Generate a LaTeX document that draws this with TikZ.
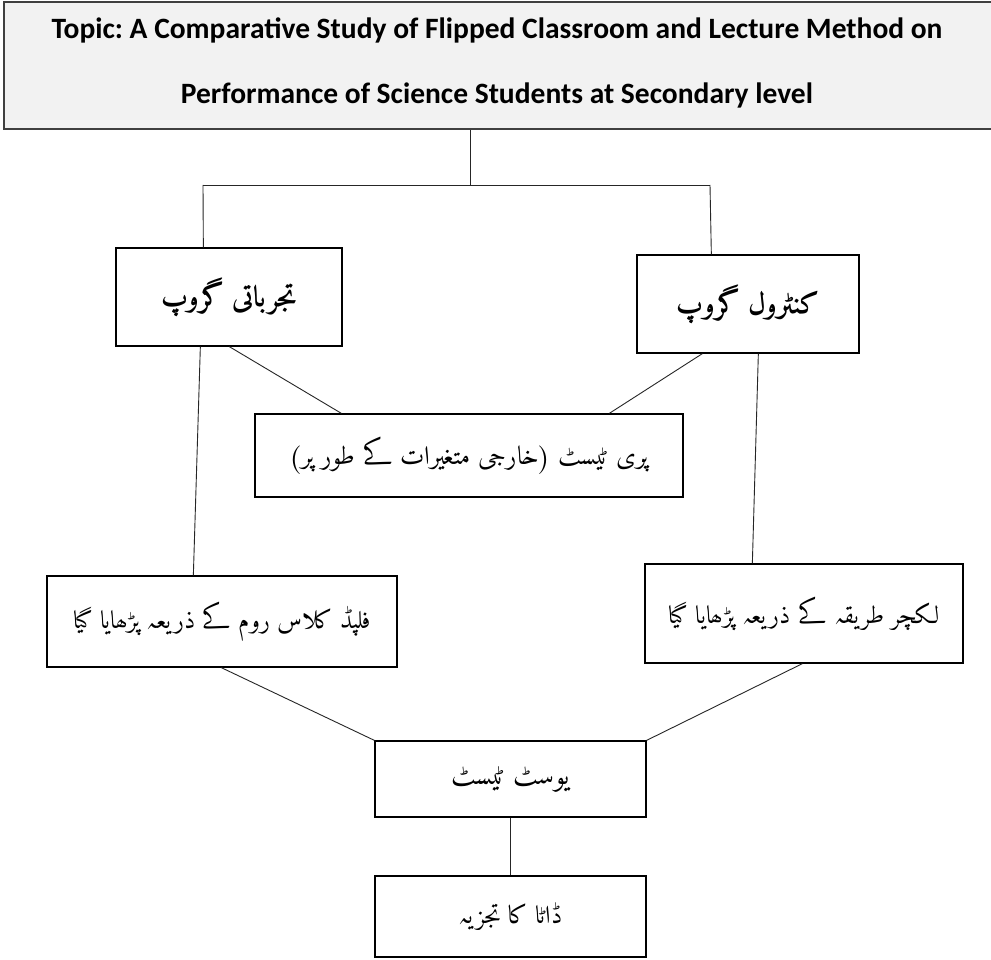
\documentclass[tikz,border=0pt]{standalone}
\usepackage{fontspec}
\setmainfont{Carlito}
\IfFontExistsTF{Amiri}
  {\newfontfamily\urdu[Script=Arabic]{Amiri}}
  {\newfontfamily\urdu[Script=Arabic]{DejaVu Sans}}
\TeXXeTstate=1
\usetikzlibrary{calc}

\newcommand{\ur}[1]{\urdu\beginR #1\endR}

\begin{document}
\frenchspacing
\begin{tikzpicture}[x=1pt,y=-1pt,
  box/.style={draw=black, line width=1.3pt, rectangle, inner sep=0pt,
    font=\urdu\fontsize{25}{30}\selectfont},
  groupbox/.style={box, font=\urdu\bfseries\fontsize{29}{35}\selectfont},
  link/.style={draw=black!85, line width=0.9pt}]
\useasboundingbox (0,0) rectangle (991,960);
\fill[white] (0,0) rectangle (991,960);

% title box
\node[draw=black!75, fill=black!5, line width=1.6pt, anchor=north west,
      minimum width=992pt, minimum height=127pt, inner sep=0pt] (topic) at (3,1) {};
\node[font=\bfseries\fontsize{29.5}{65}\selectfont, align=center, inner sep=0pt]
      (title) at (497,63) {Topic: A Comparative Study of Flipped Classroom and Lecture Method on\\
      Performance of Science Students at Secondary level};

% groups
\node[groupbox, minimum width=226pt, minimum height=98pt] (exp) at (229,297) {\ur{تجرباتی گروپ}};
\node[groupbox, minimum width=222pt, minimum height=98pt] (ctrl) at (748,304) {\ur{کنٹرول گروپ}};

% pre-test
\node[box, font=\urdu\fontsize{26}{31}\selectfont, minimum width=428pt, minimum height=83pt]
      (pre) at (469,455.5) {\ur{پری ٹیسٹ (خارجی متغیرات کے طور پر)}\hspace{18pt}};

% treatments
\node[box, minimum width=350pt, minimum height=91pt] (flip) at (222,621.5) {\ur{فلپڈ کلاس روم کے ذریعہ پڑھایا گیا}};
\node[box, minimum width=318pt, minimum height=99pt] (lect) at (804,613.5) {\ur{لکچر طریقہ کے ذریعہ پڑھایا گیا}};

% post-test and analysis
\node[box, font=\urdu\fontsize{28}{33}\selectfont, minimum width=271pt, minimum height=76pt]
      (post) at (510.5,779) {\ur{یوسٹ ٹیسٹ}};
\node[box, minimum width=271pt, minimum height=81pt] (data) at (510.5,916.5) {\ur{ڈاٹا کا تجزیہ}};

% branching from the title
\coordinate (hm) at (470,185);
\coordinate (hl) at (203,185);
\coordinate (hr) at (710,185);
\draw[link] (topic.south -| hm) -- (hm);
\draw[link] (hl) -- (hr);
\draw[link] (hl) -- ($(exp.north west)+(88,0)$);
\draw[link] (hr) -- ($(ctrl.north west)+(75,0)$);

% groups to pre-test and treatments
\draw[link] ($(exp.south west)+(114,0)$) -- ($(pre.north west)+(87,0)$);
\draw[link] ($(ctrl.south west)+(66,0)$) -- ($(pre.north west)+(355,0)$);
\draw[link] ($(exp.south west)+(85,0)$) -- ($(flip.north west)+(147,0)$);
\draw[link] ($(ctrl.south west)+(122,0)$) -- ($(lect.north west)+(108,0)$);

% treatments to post-test, then analysis
\draw[link] ($(flip.south west)+(175,0)$) -- (post.north west);
\draw[link] ($(lect.south west)+(158,0)$) -- (post.north east);
\draw[link] (post.south) -- (data.north);
\end{tikzpicture}
\end{document}
